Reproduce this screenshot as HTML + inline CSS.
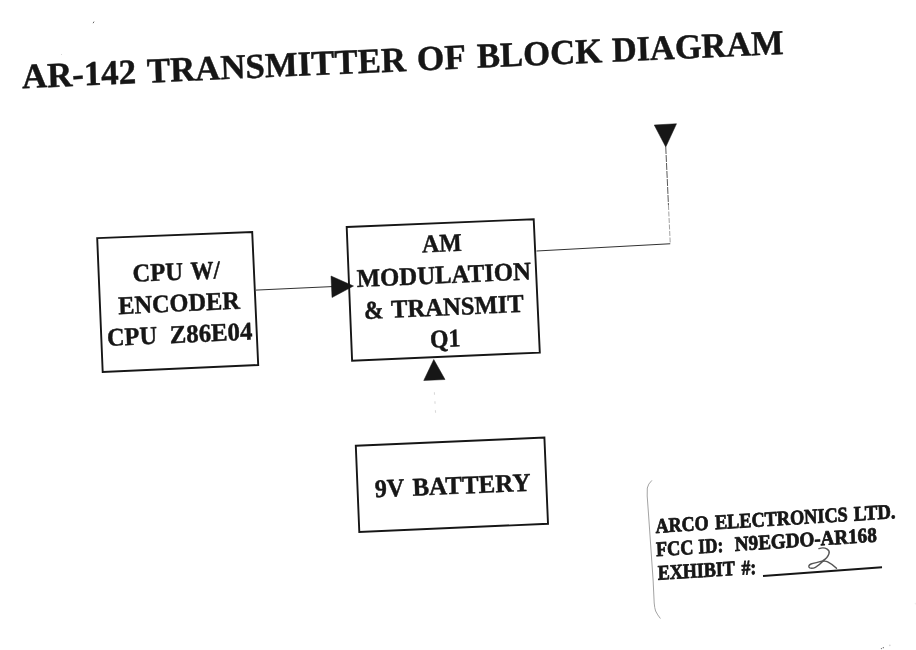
<!DOCTYPE html>
<html lang="en">
<head>
<meta charset="utf-8">
<title>AR-142 Transmitter of Block Diagram</title>
<style>
html,body{margin:0;padding:0;background:#fff;}
body{width:916px;height:650px;overflow:hidden;}
svg{display:block;filter:blur(0.35px);}
svg text{font-family:"Liberation Serif","DejaVu Serif",serif;font-weight:bold;fill:#161616;stroke:#161616;stroke-linejoin:round;}
</style>
</head>
<body>
<svg width="916" height="650" viewBox="0 0 916 650">
<rect width="916" height="650" fill="#fff"/>
<g>
<polygon points="97.20,238.10 252.20,232.10 258.20,365.00 102.70,372.00" fill="none" stroke="#161616" stroke-width="1.9" stroke-linejoin="miter"/>
<polygon points="346.70,227.00 533.70,219.20 539.80,352.60 352.10,360.75" fill="none" stroke="#161616" stroke-width="1.9" stroke-linejoin="miter"/>
<polygon points="355.80,445.70 544.40,437.60 548.00,523.75 359.30,532.00" fill="none" stroke="#161616" stroke-width="1.9" stroke-linejoin="miter"/>
<line x1="256.00" y1="290.10" x2="332.00" y2="286.60" stroke="#262626" stroke-width="0.95" />
<polygon points="331.00,276.00 332.00,297.50 353.50,286.00" fill="#161616" stroke="#161616" stroke-width="0.5" stroke-linejoin="miter"/>
<polygon points="433.75,359.50 423.75,380.50 445.00,379.50" fill="#161616" stroke="#161616" stroke-width="0.5" stroke-linejoin="miter"/>
<line x1="434.40" y1="392.30" x2="435.60" y2="413.30" stroke="#d9d9d9" stroke-width="1.1" stroke-dasharray="2.5 6.5"/>
<line x1="536.50" y1="251.00" x2="670.25" y2="243.75" stroke="#262626" stroke-width="0.95" />
<line x1="665.75" y1="147.00" x2="668.45" y2="205.00" stroke="#3a3a3a" stroke-width="0.85" stroke-dasharray="7 1"/>
<line x1="668.45" y1="205.00" x2="670.25" y2="243.75" stroke="#8a8a8a" stroke-width="0.8" stroke-dasharray="5 1.5"/>
<polygon points="654.25,125.00 676.50,123.75 665.75,147.00" fill="#161616" stroke="#161616" stroke-width="0.5" stroke-linejoin="miter"/>
<line x1="763.00" y1="575.90" x2="882.00" y2="567.30" stroke="#161616" stroke-width="2.0" />
<path d="M651.9 480.4 Q648 484 647.3 488 L647.2 496 L648.5 514 L653.1 580 L654.2 603 Q654.6 608 655.6 611 Q657.5 615 660.4 618.5" fill="none" stroke="#999" stroke-width="0.9"/>
<path d="M818.9 548.6 C822 547.6 825 547.8 826.8 548.9 C829 550.3 829.6 552 829 553.5 C828 557 825.5 559.3 822.5 560.9 C819 562.3 814 562.8 811 564 C808.5 565 808.2 567 809.7 567.9 C811.5 568.6 814 568 815.4 567.3 C818 566 820.5 563.8 822.9 561.3 C825 560.8 826.5 561.2 827.7 561.8 C830 563 834 565.5 836.5 568.2" fill="none" stroke="#555" stroke-width="1.4" stroke-linecap="round" stroke-linejoin="round"/>
<line x1="93.10" y1="23.20" x2="94.00" y2="21.60" stroke="#555" stroke-width="0.9" />
<circle cx="61.5" cy="54.6" r="0.5" fill="#ccc"/>
<circle cx="881.4" cy="648.6" r="0.6" fill="#666"/>
<circle cx="883.3" cy="647.7" r="0.6" fill="#555"/>
<circle cx="889.8" cy="645.3" r="0.9" fill="#d8d8d8"/>
<circle cx="915.5" cy="603.6" r="0.9" fill="#efefef"/>
</g>
<g class="t"><text transform="translate(22.22 88.29) rotate(-2.577) skewX(-0.773)" font-size="35" stroke-width="0.45" textLength="114.36" lengthAdjust="spacingAndGlyphs">AR-142</text>
<text transform="translate(147.22 82.66) rotate(-2.577) skewX(-0.773)" font-size="35" stroke-width="0.45" textLength="259.39" lengthAdjust="spacingAndGlyphs">TRANSMITTER</text>
<text transform="translate(417.32 70.51) rotate(-2.577) skewX(-0.773)" font-size="35" stroke-width="0.45" textLength="48.89" lengthAdjust="spacingAndGlyphs">OF</text>
<text transform="translate(477.22 67.81) rotate(-2.577) skewX(-0.773)" font-size="35" stroke-width="0.45" textLength="125.40" lengthAdjust="spacingAndGlyphs">BLOCK</text>
<text transform="translate(612.22 61.73) rotate(-2.577) skewX(-0.773)" font-size="35" stroke-width="0.45" textLength="171.76" lengthAdjust="spacingAndGlyphs">DIAGRAM</text></g>
<g class="t"><text transform="translate(132.76 281.72) rotate(-2.309) skewX(-0.693)" font-size="25.5" stroke-width="0.45" textLength="50.45" lengthAdjust="spacingAndGlyphs">CPU</text>
<text transform="translate(190.72 279.38) rotate(-2.309) skewX(-0.693)" font-size="25.5" stroke-width="0.45" textLength="29.45" lengthAdjust="spacingAndGlyphs">W/</text></g>
<g class="t"><text transform="translate(118.47 314.21) rotate(-2.644) skewX(-0.793)" font-size="25.5" stroke-width="0.45" textLength="121.67" lengthAdjust="spacingAndGlyphs">ENCODER</text></g>
<g class="t"><text transform="translate(107.27 346.01) rotate(-2.558) skewX(-0.767)" font-size="25.5" stroke-width="0.45" textLength="49.95" lengthAdjust="spacingAndGlyphs">CPU</text>
<text transform="translate(170.05 343.21) rotate(-2.558) skewX(-0.767)" font-size="25.5" stroke-width="0.45" textLength="82.56" lengthAdjust="spacingAndGlyphs">Z86E04</text></g>
<g class="t"><text transform="translate(422.22 252.49) rotate(-2.464) skewX(-0.739)" font-size="25.5" stroke-width="0.45" textLength="39.65" lengthAdjust="spacingAndGlyphs">AM</text></g>
<g class="t"><text transform="translate(356.92 287.00) rotate(-2.482) skewX(-0.745)" font-size="25.5" stroke-width="0.45" textLength="174.45" lengthAdjust="spacingAndGlyphs">MODULATION</text></g>
<g class="t"><text transform="translate(364.30 319.03) rotate(-2.569) skewX(-0.771)" font-size="25.5" stroke-width="0.45" textLength="19.64" lengthAdjust="spacingAndGlyphs">&amp;</text>
<text transform="translate(391.22 317.82) rotate(-2.569) skewX(-0.771)" font-size="25.5" stroke-width="0.45" textLength="132.89" lengthAdjust="spacingAndGlyphs">TRANSMIT</text></g>
<g class="t"><text transform="translate(430.29 347.63) rotate(-2.567) skewX(-0.770)" font-size="25.5" stroke-width="0.45" textLength="30.41" lengthAdjust="spacingAndGlyphs">Q1</text></g>
<g class="t"><text transform="translate(375.02 497.26) rotate(-2.386) skewX(-0.716)" font-size="25.5" stroke-width="0.45" textLength="29.52" lengthAdjust="spacingAndGlyphs">9V</text>
<text transform="translate(412.72 495.69) rotate(-2.386) skewX(-0.716)" font-size="25.5" stroke-width="0.45" textLength="118.06" lengthAdjust="spacingAndGlyphs">BATTERY</text></g>
<g class="t"><text transform="translate(655.70 532.88) rotate(-3.495) skewX(-1.747)" font-size="20.7" stroke-width="0.8" textLength="53.08" lengthAdjust="spacingAndGlyphs">ARCO</text>
<text transform="translate(715.20 529.24) rotate(-3.495) skewX(-1.747)" font-size="20.7" stroke-width="0.8" textLength="132.99" lengthAdjust="spacingAndGlyphs">ELECTRONICS</text>
<text transform="translate(854.10 520.76) rotate(-3.495) skewX(-1.747)" font-size="20.7" stroke-width="0.8" textLength="41.74" lengthAdjust="spacingAndGlyphs">LTD.</text></g>
<g class="t"><text transform="translate(656.20 556.27) rotate(-3.802) skewX(-1.901)" font-size="20.7" stroke-width="0.8" textLength="37.51" lengthAdjust="spacingAndGlyphs">FCC</text>
<text transform="translate(698.60 553.46) rotate(-3.802) skewX(-1.901)" font-size="20.7" stroke-width="0.8" textLength="24.79" lengthAdjust="spacingAndGlyphs">ID:</text>
<text transform="translate(735.10 551.03) rotate(-3.802) skewX(-1.901)" font-size="20.7" stroke-width="0.8" textLength="142.13" lengthAdjust="spacingAndGlyphs">N9EGDO-AR168</text></g>
<g class="t"><text transform="translate(657.90 579.68) rotate(-3.370) skewX(-1.685)" font-size="20.7" stroke-width="0.8" textLength="77.16" lengthAdjust="spacingAndGlyphs">EXHIBIT</text>
<text transform="translate(741.70 574.74) rotate(-3.370) skewX(-1.685)" font-size="20.7" stroke-width="0.8" textLength="14.68" lengthAdjust="spacingAndGlyphs">#:</text></g>
</svg>
</body>
</html>
